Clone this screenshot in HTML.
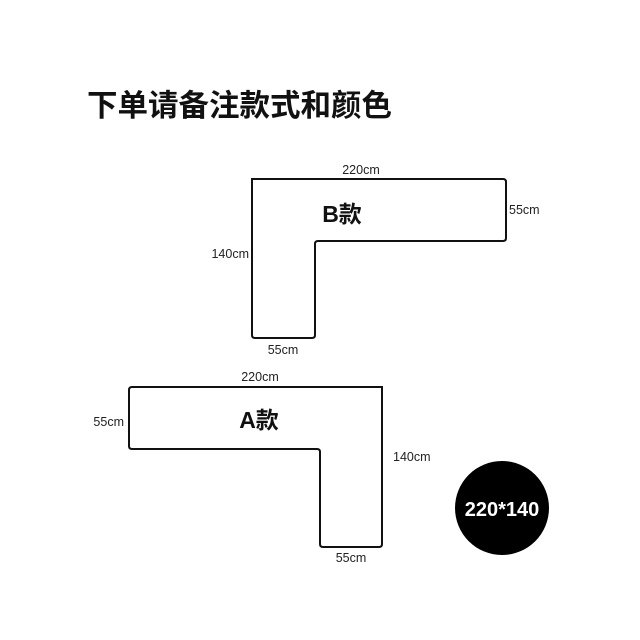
<!DOCTYPE html>
<html><head><meta charset="utf-8"><style>
html,body{margin:0;padding:0;background:#fff;}
svg{display:block;}
text{font-family:"Liberation Sans","Noto Sans CJK SC",sans-serif;}
</style></head><body>
<svg width="640" height="640" viewBox="0 0 640 640">
<text x="87" y="116" font-size="30.5" font-weight="bold" font-family="Noto Sans CJK SC, sans-serif" fill="#111">下单请备注款式和颜色</text>
<path d="M252,179 L503,179 Q506,179 506,182 L506,238 Q506,241 503,241 L318,241 Q315,241 315,244 L315,335 Q315,338 312,338 L255,338 Q252,338 252,335 Z" fill="none" stroke="#111" stroke-width="2"/>
<text x="361" y="174" font-size="12.5" text-anchor="middle" fill="#222">220cm</text>
<text x="509" y="214" font-size="12.5" fill="#222">55cm</text>
<text x="249" y="258" font-size="12.5" text-anchor="end" fill="#222">140cm</text>
<text x="283" y="354" font-size="12.5" text-anchor="middle" fill="#222">55cm</text>
<text x="342" y="222" font-size="23" font-weight="bold" text-anchor="middle" font-family="Noto Sans CJK SC, sans-serif" fill="#111">B款</text>
<path d="M132,387 L382,387 L382,544 Q382,547 379,547 L323,547 Q320,547 320,544 L320,452 Q320,449 317,449 L132,449 Q129,449 129,446 L129,390 Q129,387 132,387 Z" fill="none" stroke="#111" stroke-width="2"/>
<text x="260" y="381" font-size="12.5" text-anchor="middle" fill="#222">220cm</text>
<text x="124" y="426" font-size="12.5" text-anchor="end" fill="#222">55cm</text>
<text x="393" y="461" font-size="12.5" fill="#222">140cm</text>
<text x="351" y="562" font-size="12.5" text-anchor="middle" fill="#222">55cm</text>
<text x="259" y="428" font-size="23" font-weight="bold" text-anchor="middle" font-family="Noto Sans CJK SC, sans-serif" fill="#111">A款</text>
<circle cx="502" cy="508" r="47" fill="#000"/>
<text x="502" y="516" font-size="20" font-weight="bold" text-anchor="middle" fill="#fff">220*140</text>
</svg>
</body></html>
